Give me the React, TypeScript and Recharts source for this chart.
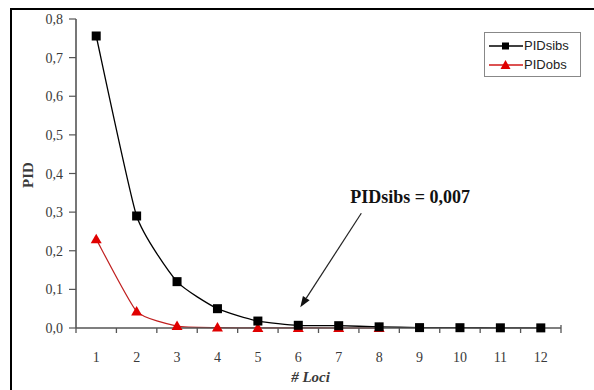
import React from 'react';
import { LineChart, Line, XAxis, YAxis, ReferenceDot, Label } from 'recharts';

// # Loci
const loci = [1, 2, 3, 4, 5, 6, 7, 8, 9, 10, 11, 12];
const pidSibs = [0.756, 0.29, 0.12, 0.05, 0.018, 0.007, 0.006, 0.003, 0.001, 0.0008, 0.0005, 0.0003];
const pidObs = [0.23, 0.043, 0.005, 0.001, 0.0003, 0.0001, 0.00005, 0.00002, null, null, null, null];
const yTicks = [0, 0.1, 0.2, 0.3, 0.4, 0.5, 0.6, 0.7, 0.8];
const noteValue = 0.007;
const noteLocus = 6;

const data = loci.map((l, i) => ({ locus: l, PIDsibs: pidSibs[i], PIDobs: pidObs[i] }));

const SERIF = '"Liberation Serif", "Times New Roman", serif';
const SANS = '"Liberation Sans", Arial, sans-serif';
const AXIS = '#555';
const TEXT = '#3a3a3a';

const PLOT_LEFT = 76;
const PLOT_RIGHT = 561;
const HALF = (PLOT_RIGHT - PLOT_LEFT) / (loci.length * 2);

// lightly smoothed line, like the spreadsheet one
function smoothCurve(context: any) {
  let pts: number[][] = [];
  const k = 12;
  return {
    areaStart() {},
    areaEnd() {},
    lineStart() {
      pts = [];
    },
    lineEnd() {
      if (!pts.length) return;
      context.moveTo(pts[0][0], pts[0][1]);
      for (let i = 0; i < pts.length - 1; i++) {
        const p0 = pts[Math.max(i - 1, 0)];
        const p1 = pts[i];
        const p2 = pts[i + 1];
        const p3 = pts[Math.min(i + 2, pts.length - 1)];
        context.bezierCurveTo(
          p1[0] + (p2[0] - p0[0]) / k,
          p1[1] + (p2[1] - p0[1]) / k,
          p2[0] - (p3[0] - p1[0]) / k,
          p2[1] - (p3[1] - p1[1]) / k,
          p2[0],
          p2[1]
        );
      }
    },
    point(x: number, y: number) {
      pts.push([+x, +y]);
    },
  };
}

function LociTick(props: any) {
  const { x, y, payload, index } = props;
  return (
    <g>
      <line x1={x - HALF} x2={x - HALF} y1={y - 5} y2={y} stroke={AXIS} strokeWidth={1.3} />
      {index === loci.length - 1 && (
        <line x1={x + HALF} x2={x + HALF} y1={y - 8} y2={y} stroke={AXIS} strokeWidth={1.3} />
      )}
      <text x={x} y={y + 29} textAnchor="middle" fontFamily={SERIF} fontSize={14} fill={TEXT}>
        {payload.value}
      </text>
    </g>
  );
}

function PidTick(props: any) {
  const { x, y, payload } = props;
  return (
    <text x={x} y={y + 5} textAnchor="end" fontFamily={SERIF} fontSize={14} fill={TEXT}>
      {Number(payload.value).toFixed(1).replace('.', ',')}
    </text>
  );
}

function SquareDot(props: any) {
  const { cx, cy, index } = props;
  if (cy == null) return <g key={`s-${index}`} />;
  return <rect key={`s-${index}`} x={cx - 4.5} y={cy - 4.5} width={9} height={9} fill="#000" />;
}

function TriangleDot(props: any) {
  const { cx, cy, index } = props;
  if (cy == null) return <g key={`t-${index}`} />;
  return (
    <polygon
      key={`t-${index}`}
      points={`${cx},${cy - 5.5} ${cx + 5.5},${cy + 4} ${cx - 5.5},${cy + 4}`}
      fill="#e00000"
    />
  );
}

function Note(props: any) {
  const { cx, cy } = props;
  const tx = cx + 2;
  const ty = cy - 18;
  const sx = cx + 63;
  const sy = cy - 112;
  const ang = Math.atan2(ty - sy, tx - sx);
  const len = 11;
  const w = 4;
  const bx = tx - len * Math.cos(ang);
  const by = ty - len * Math.sin(ang);
  const p1 = `${bx + w * Math.sin(ang)},${by - w * Math.cos(ang)}`;
  const p2 = `${bx - w * Math.sin(ang)},${by + w * Math.cos(ang)}`;
  return (
    <g>
      <line x1={sx} y1={sy} x2={bx} y2={by} stroke="#222" strokeWidth={1.2} />
      <polygon points={`${tx},${ty} ${p1} ${p2}`} fill="#111" />
      <text x={cx + 52} y={cy - 122} fontFamily={SERIF} fontSize={18} fontWeight="bold" fill="#111">
        {`PIDsibs = ${String(noteValue).replace('.', ',')}`}
      </text>
    </g>
  );
}

function LegendBox() {
  const rows = [
    { name: 'PIDsibs', color: '#000', marker: 'square' },
    { name: 'PIDobs', color: '#d01818', marker: 'triangle' },
  ];
  return (
    <div
      style={{
        position: 'absolute',
        left: 484,
        top: 32,
        border: '1px solid #888',
        width: 97,
        height: 45,
        boxSizing: 'border-box',
        paddingTop: 3,
        background: '#fff',
      }}
    >
      {rows.map((r) => (
        <div key={r.name} style={{ display: 'flex', alignItems: 'center', height: 19 }}>
          <svg width={37} height={14} style={{ marginLeft: 2 }}>
            <line x1={2} x2={36} y1={7} y2={7} stroke={r.color} strokeWidth={1.3} />
            {r.marker === 'square' ? (
              <rect x={15} y={3.5} width={7} height={7} fill="#000" />
            ) : (
              <polygon points="18.5,2 23.5,11 13.5,11" fill="#e00000" />
            )}
          </svg>
          <span style={{ fontFamily: SANS, fontSize: 13, color: '#222' }}>{r.name}</span>
        </div>
      ))}
    </div>
  );
}

export default function App() {
  return (
    <div style={{ position: 'absolute', left: 0, top: 0, width: 594, height: 390, background: '#fff', overflow: 'hidden' }}>
      <div
        style={{
          position: 'absolute',
          left: 10,
          top: 8,
          width: 600,
          height: 400,
          borderTop: '2px solid #000',
          borderLeft: '2px solid #000',
        }}
      />
      <div style={{ position: 'absolute', left: 0, top: 0 }}>
        <LineChart width={594} height={390} data={data} margin={{ top: 19, right: 33, bottom: 0, left: 0 }}>
          <XAxis
            dataKey="locus"
            type="number"
            domain={[0.5, 12.5]}
            ticks={loci}
            tick={<LociTick />}
            tickLine={false}
            tickSize={5}
            tickMargin={0}
            height={62}
            axisLine={{ stroke: AXIS, strokeWidth: 1.6 }}
            interval={0}
          >
            <Label
              value="# Loci"
              position="insideBottom"
              offset={8}
              dx={-8}
              style={{ fontFamily: SERIF, fontSize: 15, fontWeight: 'bold', fontStyle: 'italic', fill: TEXT }}
            />
          </XAxis>
          <YAxis
            domain={[0, 0.8]}
            ticks={yTicks}
            width={76}
            tickSize={7}
            tickMargin={6}
            interval={0}
            tick={<PidTick />}
            tickLine={{ stroke: AXIS, strokeWidth: 1.2 }}
            axisLine={{ stroke: AXIS, strokeWidth: 1.6 }}
          >
            <Label
              content={() => (
                <text
                  transform="translate(33,175) rotate(-90)"
                  textAnchor="middle"
                  fontFamily={SERIF}
                  fontSize={15}
                  fontWeight="bold"
                  fill={TEXT}
                >
                  PID
                </text>
              )}
            />
          </YAxis>
          <Line
            type={smoothCurve as any}
            dataKey="PIDobs"
            stroke="#c02020"
            strokeWidth={1.2}
            dot={<TriangleDot />}
            activeDot={false}
            isAnimationActive={false}
            connectNulls={false}
          />
          <Line
            type={smoothCurve as any}
            dataKey="PIDsibs"
            stroke="#000"
            strokeWidth={1.3}
            dot={<SquareDot />}
            activeDot={false}
            isAnimationActive={false}
          />
          <ReferenceDot x={noteLocus} y={noteValue} r={0} shape={<Note />} ifOverflow="visible" />
        </LineChart>
      </div>
      <LegendBox />
    </div>
  );
}
